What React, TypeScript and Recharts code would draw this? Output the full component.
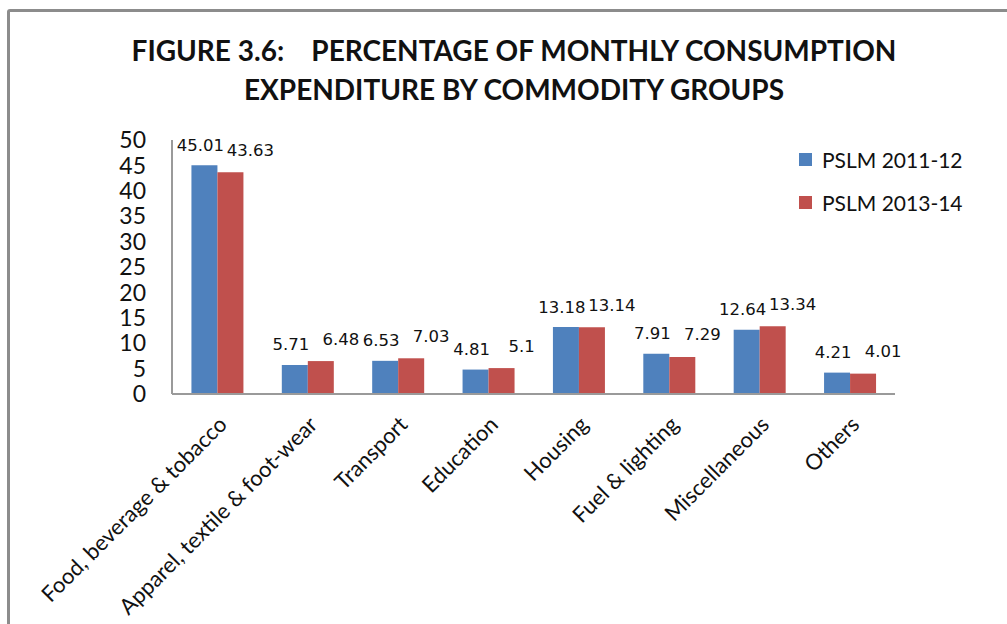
import React from 'react';
import { BarChart, Bar, XAxis, YAxis, LabelList } from 'recharts';

const categories = [
  'Food, beverage & tobacco',
  'Apparel, textile & foot-wear',
  'Transport',
  'Education',
  'Housing',
  'Fuel & lighting',
  'Miscellaneous',
  'Others',
];
const pslm2011 = [45.01, 5.71, 6.53, 4.81, 13.18, 7.91, 12.64, 4.21];
const pslm2013 = [43.63, 6.48, 7.03, 5.1, 13.14, 7.29, 13.34, 4.01];
const yTicks = [0, 5, 10, 15, 20, 25, 30, 35, 40, 45, 50];
const seriesNames = ['PSLM 2011-12', 'PSLM 2013-14'];

const data = categories.map((name, i) => ({ name, a: pslm2011[i], b: pslm2013[i] }));

const BLUE = '#4F81BD';
const RED = '#C0504D';
const SANS = 'Lato, "Open Sans", sans-serif';

const CategoryTick = ({ x, y, payload }: any) => (
  <text
    x={x + 5}
    y={y + 18}
    transform={`rotate(-45 ${x + 5} ${y + 18})`}
    textAnchor="end"
    dominantBaseline="central"
    fontFamily={SANS}
    fontSize={22}
    fill="#111"
  >
    {payload.value}
  </text>
);

// value labels sit above the bars, nudged sideways like Excel does
const makeLabel = (dx: number, up: number) => (props: any) => {
  const { x, y, width, value } = props;
  return (
    <text
      x={x + width / 2 + dx}
      y={y - up}
      textAnchor="middle"
      dominantBaseline="central"
      fontFamily='"DejaVu Sans", Verdana, sans-serif'
      fontSize={16.5}
      fill="#111"
    >
      {value}
    </text>
  );
};

export default function App() {
  return (
    <div style={{ position: 'absolute', left: 0, top: 0, width: 1007, height: 624, overflow: 'hidden', background: '#fff' }}>
      <div
        style={{
          position: 'absolute',
          left: 7,
          top: 9,
          width: 1100,
          height: 700,
          border: '3px solid #8c8c8c',
          borderRadius: 3,
        }}
      />
      <div
        style={{
          position: 'absolute',
          left: 0,
          top: 31,
          width: 1028,
          textAlign: 'center',
          fontFamily: SANS,
          fontWeight: 700,
          fontSize: 28,
          lineHeight: '39px',
          color: '#111',
          whiteSpace: 'pre',
        }}
      >
        {'FIGURE 3.6:    PERCENTAGE OF MONTHLY CONSUMPTION\nEXPENDITURE BY COMMODITY GROUPS'}
      </div>
      <div style={{ position: 'absolute', left: 0, top: 0 }}>
        <BarChart
          width={1007}
          height={624}
          data={data}
          margin={{ top: 140, right: 112, bottom: 0, left: 122 }}
          barCategoryGap="21.5%"
          barGap={0}
        >
          <YAxis
            domain={[0, 50]}
            ticks={yTicks}
            interval={0}
            width={50}
            tickLine={false}
            tickSize={0}
            tickMargin={26}
            axisLine={{ stroke: '#9a9a9a', strokeWidth: 2 }}
            tick={{ fontFamily: SANS, fontSize: 23, fill: '#111' }}
          />
          <XAxis
            dataKey="name"
            interval={0}
            height={230}
            tickLine={false}
            axisLine={{ stroke: '#9a9a9a', strokeWidth: 2 }}
            tick={<CategoryTick />}
          />
          <Bar dataKey="a" name={seriesNames[0]} fill={BLUE} isAnimationActive={false}>
            <LabelList dataKey="a" content={makeLabel(-4, 20)} />
          </Bar>
          <Bar dataKey="b" name={seriesNames[1]} fill={RED} isAnimationActive={false}>
            <LabelList dataKey="b" content={makeLabel(20, 22)} />
          </Bar>
        </BarChart>
      </div>
      <div style={{ position: 'absolute', left: 799, top: 138, fontFamily: SANS, fontSize: 21, color: '#111' }}>
        {[BLUE, RED].map((c, i) => (
          <div key={c} style={{ display: 'flex', alignItems: 'center', height: 43 }}>
            <span style={{ width: 13, height: 13, background: c, display: 'inline-block', marginRight: 10 }} />
            {seriesNames[i]}
          </div>
        ))}
      </div>
    </div>
  );
}
